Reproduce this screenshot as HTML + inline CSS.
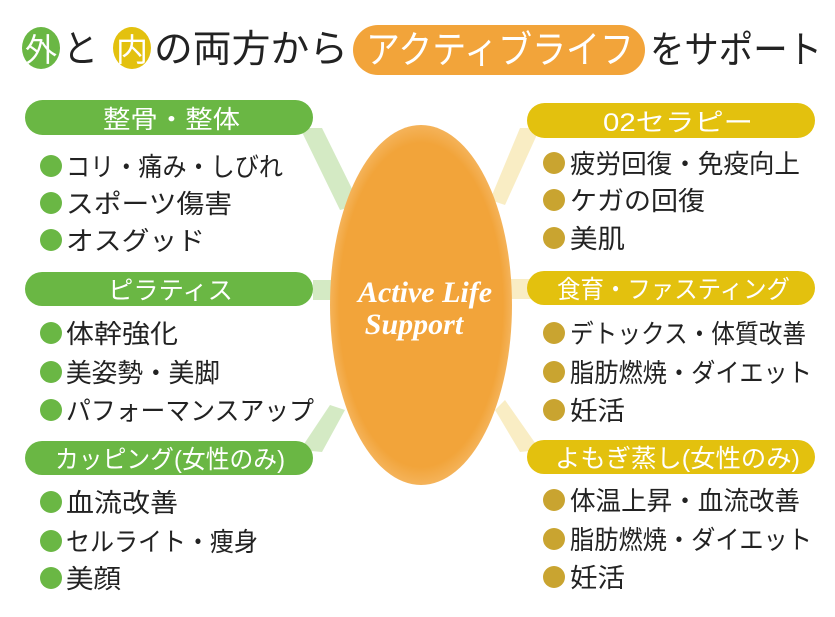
<!DOCTYPE html>
<html><head><meta charset="utf-8"><style>
html,body{margin:0;padding:0;background:#fff}
svg text{font-family:"Liberation Sans","Noto Sans CJK JP",sans-serif}
</style></head><body>
<svg width="835" height="612" viewBox="0 0 835 612" xmlns="http://www.w3.org/2000/svg">
<defs>
<radialGradient id="og" cx="50%" cy="50%" r="50%"><stop offset="90%" stop-color="#f2a43a"/><stop offset="100%" stop-color="#f4b35a"/></radialGradient>
</defs>
<!-- title -->
<ellipse cx="41" cy="48" rx="19" ry="21" fill="#6ab744"/>
<text x="41" y="61" font-size="32" fill="#fff" text-anchor="middle">外</text>
<text x="63" y="62" font-size="38" fill="#222" textLength="35" lengthAdjust="spacingAndGlyphs">と</text>
<ellipse cx="132" cy="48" rx="19" ry="21" fill="#e3c10e"/>
<text x="132" y="61" font-size="32" fill="#fff" text-anchor="middle">内</text>
<text x="154" y="62" font-size="38" fill="#222" textLength="194" lengthAdjust="spacingAndGlyphs">の両方から</text>
<rect x="353" y="25" width="292" height="50" rx="25" fill="#f2a43a"/>
<text x="366" y="63" font-size="38" fill="#fff" textLength="268" lengthAdjust="spacingAndGlyphs">アクティブライフ</text>
<text x="650" y="63" font-size="38" fill="#222" textLength="172" lengthAdjust="spacingAndGlyphs">をサポート</text>
<!-- connectors -->
<g opacity="0.5">
<polygon points="300,128 322,128 360,205 340,210" fill="#a9d68a"/>
<polygon points="313,280 340,280 340,300 313,300" fill="#a9d68a"/>
<polygon points="300,450 322,452 345,410 330,405" fill="#a9d68a"/>
<polygon points="540,128 520,128 490,200 505,205" fill="#f3dc8a"/>
<polygon points="505,279 535,279 535,299 505,299" fill="#f3dc8a"/>
<polygon points="540,450 520,452 495,410 505,400" fill="#f3dc8a"/>
</g>
<ellipse cx="421" cy="305" rx="91" ry="180" fill="url(#og)"/>
<text x="425" y="302" font-size="30" font-style="italic" font-weight="bold" fill="#fff" text-anchor="middle" style="font-family:'Liberation Serif',serif">Active Life</text>
<text x="414" y="334" font-size="30" font-style="italic" font-weight="bold" fill="#fff" text-anchor="middle" style="font-family:'Liberation Serif',serif">Support</text>
<!-- left pills -->
<g fill="#6ab744">
<rect x="25" y="100" width="288" height="35" rx="17.5"/>
<rect x="25" y="272" width="288" height="34" rx="17"/>
<rect x="25" y="441" width="288" height="34" rx="17"/>
</g>
<g fill="#fff" font-size="25">
<text x="103" y="128" textLength="137" lengthAdjust="spacingAndGlyphs">整骨・整体</text>
<text x="108" y="299" textLength="125" lengthAdjust="spacingAndGlyphs">ピラティス</text>
<text x="55" y="468" textLength="230" lengthAdjust="spacingAndGlyphs">カッピング(女性のみ)</text>
</g>
<g fill="#e3c10e">
<rect x="527" y="103" width="288" height="35" rx="17.5"/>
<rect x="527" y="271" width="288" height="34" rx="17"/>
<rect x="527" y="440" width="288" height="34" rx="17"/>
</g>
<g fill="#fff" font-size="25">
<text x="603" y="131" textLength="150" lengthAdjust="spacingAndGlyphs">02セラピー</text>
<text x="557" y="298" textLength="233" lengthAdjust="spacingAndGlyphs">食育・ファスティング</text>
<text x="555" y="467" textLength="245" lengthAdjust="spacingAndGlyphs">よもぎ蒸し(女性のみ)</text>
</g>
<!-- left bullets -->
<g fill="#6ab744">
<circle cx="51" cy="166" r="11"/><circle cx="51" cy="203" r="11"/><circle cx="51" cy="240" r="11"/>
<circle cx="51" cy="333" r="11"/><circle cx="51" cy="372" r="11"/><circle cx="51" cy="410" r="11"/>
<circle cx="51" cy="502" r="11"/><circle cx="51" cy="541" r="11"/><circle cx="51" cy="578" r="11"/>
</g>
<g fill="#222" font-size="26">
<text x="66" y="176" textLength="217" lengthAdjust="spacingAndGlyphs">コリ・痛み・しびれ</text>
<text x="66" y="213" textLength="166" lengthAdjust="spacingAndGlyphs">スポーツ傷害</text>
<text x="66" y="250" textLength="139" lengthAdjust="spacingAndGlyphs">オスグッド</text>
<text x="66" y="343" textLength="112" lengthAdjust="spacingAndGlyphs">体幹強化</text>
<text x="66" y="382" textLength="154" lengthAdjust="spacingAndGlyphs">美姿勢・美脚</text>
<text x="66" y="420" textLength="248" lengthAdjust="spacingAndGlyphs">パフォーマンスアップ</text>
<text x="66" y="512" textLength="112" lengthAdjust="spacingAndGlyphs">血流改善</text>
<text x="66" y="551" textLength="192" lengthAdjust="spacingAndGlyphs">セルライト・痩身</text>
<text x="66" y="588" textLength="55" lengthAdjust="spacingAndGlyphs">美顔</text>
</g>
<g fill="#c9a430">
<circle cx="554" cy="163" r="11"/><circle cx="554" cy="200" r="11"/><circle cx="554" cy="238" r="11"/>
<circle cx="554" cy="333" r="11"/><circle cx="554" cy="372" r="11"/><circle cx="554" cy="410" r="11"/>
<circle cx="554" cy="500" r="11"/><circle cx="554" cy="539" r="11"/><circle cx="554" cy="577" r="11"/>
</g>
<g fill="#222" font-size="26">
<text x="570" y="173" textLength="230" lengthAdjust="spacingAndGlyphs">疲労回復・免疫向上</text>
<text x="570" y="210" textLength="135" lengthAdjust="spacingAndGlyphs">ケガの回復</text>
<text x="570" y="248" textLength="55" lengthAdjust="spacingAndGlyphs">美肌</text>
<text x="570" y="343" textLength="236" lengthAdjust="spacingAndGlyphs">デトックス・体質改善</text>
<text x="570" y="382" textLength="242" lengthAdjust="spacingAndGlyphs">脂肪燃焼・ダイエット</text>
<text x="570" y="420" textLength="55" lengthAdjust="spacingAndGlyphs">妊活</text>
<text x="570" y="510" textLength="230" lengthAdjust="spacingAndGlyphs">体温上昇・血流改善</text>
<text x="570" y="549" textLength="242" lengthAdjust="spacingAndGlyphs">脂肪燃焼・ダイエット</text>
<text x="570" y="587" textLength="55" lengthAdjust="spacingAndGlyphs">妊活</text>
</g>
</svg>
</body></html>
